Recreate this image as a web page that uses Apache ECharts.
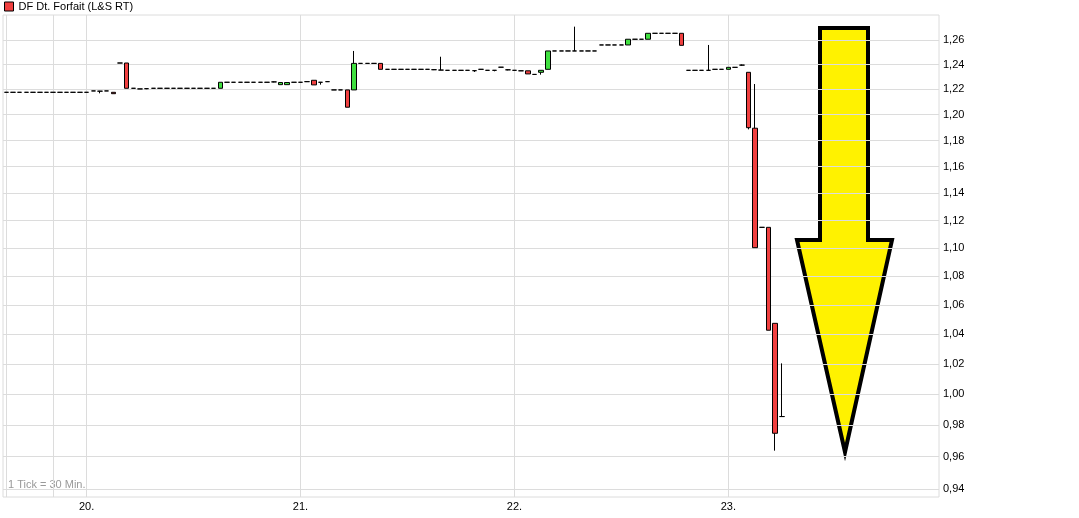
<!DOCTYPE html>
<html><head><meta charset="utf-8">
<script src="https://cdn.jsdelivr.net/npm/echarts@6/dist/echarts.min.js"></script>
<style>html,body{margin:0;padding:0;background:#fff}#c{width:1079px;height:518px}</style>
</head><body><div id="c"></div>
<script>
const seriesName = 'DF Dt. Forfait (L&S RT)';
const dayLabels = ['19.', '20.', '21.', '22.', '23.'];
const slotsPerDay = 32;          // 30-min bars per trading day
const firstSlotOffset = 20;      // first visible bar is slot 20 of day '19.'
const totalSlots = 140;
const extraGridSlots = [0, 7];   // extra vertical grid lines seen in the picture
const yTicks = [0.94, 0.96, 0.98, 1.00, 1.02, 1.04, 1.06, 1.08, 1.10, 1.12, 1.14, 1.16, 1.18, 1.20, 1.22, 1.24, 1.26];
const yMin = 0.9351, yMax = 1.2807;

// [open, close, low, high] per 30-min bar
const candles = [
  [1.2177,1.2177,1.2177,1.2177],[1.2177,1.2177,1.2177,1.2177],[1.2177,1.2177,1.2177,1.2177],[1.2177,1.2177,1.2177,1.2177],
  [1.2177,1.2177,1.2177,1.2177],[1.2177,1.2177,1.2177,1.2177],[1.2177,1.2177,1.2177,1.2177],[1.2177,1.2177,1.2177,1.2177],
  [1.2177,1.2177,1.2177,1.2177],[1.2177,1.2177,1.2177,1.2177],[1.2177,1.2177,1.2177,1.2177],[1.2177,1.2177,1.2177,1.2177],
  [1.2177,1.2177,1.2177,1.2177],
  [1.2188,1.2188,1.2188,1.2188],
  [1.2186,1.2186,1.2169,1.2188],
  [1.2188,1.2188,1.2188,1.2188],
  [1.2177,1.2166,1.2166,1.2177],
  [1.2412,1.2412,1.2412,1.2412],
  [1.2412,1.2209,1.2209,1.2412],
  [1.2209,1.2209,1.2209,1.2209],
  [1.2204,1.2204,1.2204,1.2204],
  [1.2206,1.2206,1.2202,1.2209],
  [1.2209,1.2209,1.2209,1.2209],[1.2209,1.2209,1.2209,1.2209],[1.2209,1.2209,1.2209,1.2209],[1.2209,1.2209,1.2209,1.2209],
  [1.2209,1.2209,1.2209,1.2209],[1.2209,1.2209,1.2209,1.2209],[1.2209,1.2209,1.2209,1.2209],[1.2209,1.2209,1.2209,1.2209],
  [1.2209,1.2209,1.2209,1.2209],[1.2209,1.2209,1.2209,1.2209],
  [1.2209,1.2257,1.2209,1.2257],
  [1.2257,1.2257,1.2257,1.2257],[1.2257,1.2257,1.2257,1.2257],[1.2257,1.2257,1.2257,1.2257],[1.2257,1.2257,1.2257,1.2257],
  [1.2257,1.2257,1.2257,1.2257],[1.2257,1.2257,1.2257,1.2257],[1.2257,1.2257,1.2257,1.2257],
  [1.2260,1.2260,1.2257,1.2263],
  [1.2238,1.2255,1.2238,1.2255],
  [1.2238,1.2255,1.2238,1.2255],
  [1.2257,1.2257,1.2257,1.2257],[1.2257,1.2257,1.2257,1.2257],
  [1.2262,1.2262,1.2259,1.2265],
  [1.2273,1.2236,1.2236,1.2273],
  [1.2257,1.2257,1.2238,1.2257],
  [1.2262,1.2262,1.2259,1.2265],
  [1.2196,1.2196,1.2196,1.2196],[1.2196,1.2196,1.2196,1.2196],
  [1.2196,1.2059,1.2059,1.2196],
  [1.2196,1.2409,1.2196,1.2510],
  [1.2409,1.2409,1.2409,1.2409],[1.2409,1.2409,1.2409,1.2409],[1.2409,1.2409,1.2409,1.2409],
  [1.2409,1.2361,1.2361,1.2409],
  [1.2361,1.2361,1.2361,1.2361],[1.2361,1.2361,1.2361,1.2361],[1.2361,1.2361,1.2361,1.2361],[1.2361,1.2361,1.2361,1.2361],
  [1.2361,1.2361,1.2361,1.2361],[1.2361,1.2361,1.2361,1.2361],[1.2361,1.2361,1.2361,1.2361],
  [1.2358,1.2358,1.2355,1.2361],
  [1.2355,1.2355,1.2355,1.2463],
  [1.2353,1.2353,1.2353,1.2353],[1.2353,1.2353,1.2353,1.2353],[1.2353,1.2353,1.2353,1.2353],[1.2353,1.2353,1.2353,1.2353],
  [1.2350,1.2350,1.2340,1.2353],
  [1.2361,1.2361,1.2361,1.2361],
  [1.2353,1.2353,1.2353,1.2353],
  [1.2353,1.2353,1.2345,1.2353],
  [1.2378,1.2378,1.2378,1.2378],
  [1.2357,1.2357,1.2353,1.2360],
  [1.2353,1.2353,1.2353,1.2353],
  [1.2349,1.2349,1.2349,1.2349],
  [1.2349,1.2324,1.2324,1.2349],
  [1.2320,1.2320,1.2316,1.2322],
  [1.2337,1.2353,1.2318,1.2353],
  [1.2361,1.2510,1.2361,1.2510],
  [1.2510,1.2510,1.2510,1.2510],[1.2510,1.2510,1.2510,1.2510],[1.2510,1.2510,1.2510,1.2510],[1.2510,1.2510,1.2510,1.2710],
  [1.2510,1.2510,1.2510,1.2510],[1.2510,1.2510,1.2510,1.2510],[1.2510,1.2510,1.2510,1.2510],
  [1.2559,1.2559,1.2559,1.2559],[1.2559,1.2559,1.2559,1.2559],[1.2559,1.2559,1.2559,1.2559],[1.2559,1.2559,1.2559,1.2559],
  [1.2559,1.2606,1.2559,1.2606],
  [1.2606,1.2606,1.2606,1.2606],[1.2606,1.2606,1.2606,1.2606],
  [1.2606,1.2655,1.2606,1.2655],
  [1.2655,1.2655,1.2655,1.2655],[1.2655,1.2655,1.2655,1.2655],[1.2655,1.2655,1.2655,1.2655],[1.2655,1.2655,1.2655,1.2655],
  [1.2655,1.2556,1.2556,1.2655],
  [1.2353,1.2353,1.2353,1.2353],[1.2353,1.2353,1.2353,1.2353],[1.2353,1.2353,1.2353,1.2353],
  [1.2353,1.2353,1.2353,1.2559],
  [1.2361,1.2361,1.2361,1.2361],[1.2361,1.2361,1.2361,1.2361],
  [1.2361,1.2377,1.2361,1.2377],
  [1.2377,1.2377,1.2377,1.2377],
  [1.2395,1.2395,1.2390,1.2400],
  [1.2337,1.1899,1.1886,1.2337],
  [1.1895,1.1003,1.1003,1.2243],
  [1.1150,1.1150,1.1150,1.1150],
  [1.1150,1.0426,1.0426,1.1150],
  [1.0473,0.9748,0.9638,1.0473],
  [0.9855,0.9855,0.9852,1.0203]
];

// category labels: one per 30-min slot
const times = [];
for (let k = 0; k < slotsPerDay; k++) {
  const m = 7 * 60 + 30 + k * 30;
  times.push(String(Math.floor(m / 60)).padStart(2, '0') + ':' + String(m % 60).padStart(2, '0'));
}
const categories = [];
const dayStarts = [];
for (let i = 0; i < totalSlots; i++) {
  const g = i + firstSlotOffset;
  const d = Math.floor(g / slotsPerDay), s = g % slotsPerDay;
  categories.push(dayLabels[d] + ' ' + times[s]);
  if (s === 0) dayStarts.push(i);
}
const vGrid = extraGridSlots.concat(dayStarts);

const FONT = '"Liberation Sans", Arial, sans-serif';
const chart = echarts.init(document.getElementById('c'), null, {renderer: 'canvas'});
chart.setOption({
  animation: false,
  backgroundColor: '#fff',
  legend: {
    left: 4, top: 1, padding: 0, icon: 'rect', itemWidth: 9, itemHeight: 9, itemGap: 5,
    textStyle: {fontSize: 11, color: '#000', fontFamily: FONT},
    data: [{name: seriesName, itemStyle: {color: '#f04040', borderColor: '#000', borderWidth: 1}}]
  },
  grid: {left: 3, right: 140, top: 15, bottom: 21, show: true, borderColor: '#dcdcdc', borderWidth: 1,
         containLabel: false, outerBoundsMode: 'none'},
  xAxis: {
    type: 'category', data: categories, boundaryGap: true,
    axisLine: {show: false}, axisTick: {show: false},
    axisLabel: {interval: (i) => dayStarts.indexOf(i) >= 0, formatter: (v) => v.split(' ')[0],
                color: '#000', fontSize: 11, fontFamily: FONT, margin: 4},
    splitLine: {show: true, alignWithLabel: true, interval: (i) => vGrid.indexOf(i) >= 0,
                lineStyle: {color: '#dcdcdc', width: 1}}
  },
  yAxis: {
    type: 'log', position: 'right', min: yMin, max: yMax,
    axisLine: {show: false},
    axisTick: {show: false, customValues: yTicks},
    axisLabel: {customValues: yTicks, formatter: (v) => v.toFixed(2).replace('.', ','),
                color: '#000', fontSize: 11, fontFamily: FONT, margin: 4},
    splitLine: {show: true, lineStyle: {color: '#dcdcdc', width: 1}}
  },
  series: [{
    name: seriesName, type: 'candlestick', data: candles, barWidth: 5,
    itemStyle: {color: '#40e040', color0: '#f04040', borderColor: '#000', borderColor0: '#000',
                borderColorDoji: '#000', borderWidth: 1}
  }],
  graphic: [
    {type: 'text', left: 8, top: 479, silent: true,
     style: {text: '1 Tick = 30 Min.', fill: '#999', fontSize: 11, fontFamily: FONT}},
    {type: 'polygon', z: -1, silent: true,
     shape: {points: [[820, 28], [868, 28], [868, 240], [892, 240], [845, 452], [797, 240], [820, 240]]},
     style: {fill: '#fff200', stroke: '#000', lineWidth: 4, lineJoin: 'miter'}}
  ]
});
</script></body></html>
